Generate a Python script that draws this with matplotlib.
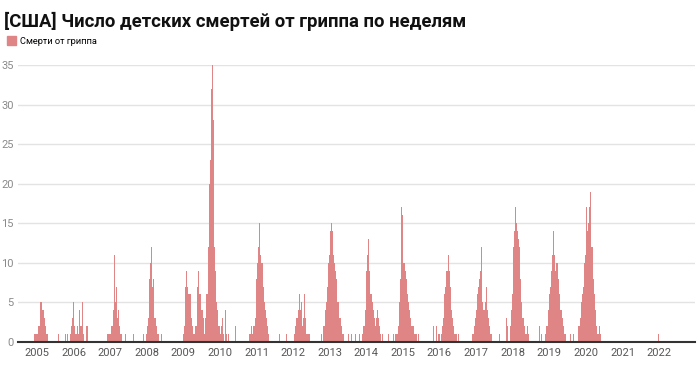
import pandas as pd
import matplotlib
matplotlib.use('Agg')
import matplotlib.pyplot as plt
import matplotlib.dates as mdates
from matplotlib.patches import Patch

# weekly pediatric flu deaths, each season starts on Oct 1 of the previous year
s2005 = [0, 0, 0, 0, 0, 0, 0, 0, 0, 1, 1, 1, 1, 1, 3, 2, 2, 3, 5, 5, 4, 4, 4, 3, 2, 2, 1, 2, 1,
         0, 0, 0, 0, 0, 0, 0, 0, 0, 0, 0, 0, 0, 0, 1]
s2006 = [0, 1, 0, 0, 1, 0, 0, 0, 1, 0, 2, 3, 2, 5, 2, 1, 1, 1, 2, 3, 1, 4, 2, 1, 2, 5, 1, 1, 0, 1,
         0, 2, 2, 1]
s2007 = [0, 0, 0, 0, 0, 0, 0, 0, 4, 1, 1, 0, 1, 1, 1, 2, 2, 4, 5, 11, 5, 4, 7, 3, 2, 4, 2, 1, 1, 1,
         0, 1, 0, 0, 0, 1, 0, 0, 0, 0, 0, 0, 0, 0, 0, 0, 1]
s2008 = [0, 0, 0, 1, 0, 0, 0, 0, 1, 0, 0, 0, 1, 1, 2, 3, 6, 8, 10, 12, 9, 7, 8, 6, 3, 3, 3, 2, 1, 1,
         1, 0, 0, 0, 1, 0, 1]
s2009 = [0, 0, 0, 0, 0, 0, 0, 0, 0, 0, 0, 0, 0, 1, 2, 4, 7, 9, 10, 7, 6, 6, 5, 6, 3, 3, 2, 1, 1, 1,
         2, 2, 4, 7, 9, 8, 6, 6, 4, 6, 4, 3, 2, 1, 3, 4, 6, 6, 12, 16, 20, 23]
s2010 = [26, 32, 35, 28, 21, 12, 9, 8, 5, 4, 3, 2, 2, 1, 0, 2, 3, 1, 1, 0, 1, 4, 1, 0, 0, 1, 0, 0, 0, 0,
         1, 0, 0, 0, 0, 2]
s2011 = [0, 0, 0, 1, 1, 2, 1, 1, 2, 1, 2, 3, 6, 8, 10, 12, 13, 15, 11, 11, 10, 10, 9, 7, 5, 4, 3, 3, 2, 2,
         1, 0, 0, 0, 0, 0, 0, 0, 0, 0, 0, 0, 0, 0, 0, 1]
s2012 = [0, 0, 0, 1, 0, 0, 0, 0, 0, 0, 0, 0, 0, 0, 1, 1, 2, 2, 3, 3, 4, 2, 6, 4, 3, 5, 2, 2, 3, 6,
         3, 2, 1, 1, 0, 1, 1]
s2013 = [1, 1, 0, 1, 2, 2, 3, 4, 5, 7, 8, 10, 11, 13, 14, 15, 17, 14, 11, 10, 9, 9, 8, 7, 5, 5, 4, 3, 3, 2,
         1, 1, 1, 0, 0, 0, 0, 0, 0, 1, 0, 0, 0, 0, 1, 0, 0, 0, 0, 1]
s2014 = [0, 0, 0, 1, 0, 0, 0, 1, 1, 2, 2, 4, 6, 9, 11, 12, 13, 9, 7, 6, 6, 5, 3, 4, 3, 2, 2, 3, 2, 4,
         3, 2, 1, 1, 0, 1, 1, 0, 0, 0, 0, 0, 0, 0, 1, 0, 0, 0, 0, 0, 0, 1]
s2015 = [1, 0, 1, 0, 1, 1, 2, 3, 5, 8, 12, 17, 16, 12, 10, 10, 9, 9, 8, 6, 6, 5, 4, 4, 3, 2, 2, 2, 2, 1,
         2, 1, 1, 1, 0, 1, 0, 0, 0, 0, 0, 0, 0, 0, 1]
s2016 = [0, 0, 0, 0, 2, 0, 0, 0, 2, 1, 0, 1, 0, 1, 0, 2, 1, 2, 3, 4, 6, 7, 8, 9, 9, 10, 11, 9, 7, 5,
         4, 3, 2, 2, 1, 1, 1, 1, 0, 1, 1]
s2017 = [0, 0, 0, 0, 0, 0, 0, 0, 1, 1, 2, 2, 3, 4, 5, 6, 7, 8, 8, 9, 12, 9, 5, 4, 3, 4, 5, 7, 9, 4,
         3, 2, 2, 1, 1, 1, 0, 0, 0, 0, 0, 0, 0, 0, 0, 0, 1]
s2018 = [0, 0, 0, 2, 3, 2, 1, 0, 0, 1, 2, 4, 6, 9, 12, 14, 16, 17, 15, 15, 14, 13, 12, 9, 8, 5, 4, 3, 3, 2,
         2, 1, 1, 1, 2, 1, 1, 0, 0, 0, 0, 0, 0, 0, 0, 0, 0, 0, 0, 0, 0, 2]
s2019 = [0, 0, 1, 0, 0, 0, 0, 1, 1, 2, 2, 3, 4, 6, 7, 8, 9, 11, 12, 14, 11, 9, 9, 10, 10, 9, 8, 6, 4, 4,
         4, 3, 3, 2, 1, 0, 1, 0, 1, 0, 0, 1, 0, 1, 0, 0, 0, 1]
s2020 = [1, 0, 2, 1, 2, 3, 3, 5, 6, 7, 9, 10, 11, 15, 17, 14, 15, 16, 17, 19, 15, 12, 12, 9, 8, 6, 4, 3, 2, 1,
         2, 1, 2, 2, 1]
s2021 = [0, 0, 0, 0, 0, 0, 0, 0, 0, 1]
s2022 = [0, 0, 0, 0, 0, 0, 0, 0, 0, 0, 0, 0, 1]

seasons = [s2005, s2006, s2007, s2008, s2009, s2010, s2011, s2012, s2013,
           s2014, s2015, s2016, s2017, s2018, s2019, s2020, s2021, s2022]
season_years = list(range(2005, 2023))
year_ticks = list(range(2005, 2023))

bar_color = '#e08585'

fig = plt.figure(figsize=(7, 3.66), dpi=100)
ax = fig.add_axes([0.0257, 0.0656, 0.967, 0.757])

# one weekly bar per value, drawn as a filled step outline per season
for year, vals in zip(season_years, seasons):
    edges = pd.date_range(f'{year - 1}-10-01', periods=len(vals) + 1, freq='7D')
    ax.stairs(vals, mdates.date2num(edges), fill=True, color=bar_color,
              linewidth=0, baseline=0)

ax.set_ylim(0, 35)
ax.set_xlim(mdates.date2num(pd.Timestamp('2004-06-25')),
            mdates.date2num(pd.Timestamp('2022-12-25')))
ax.set_yticks(range(0, 36, 5))
ax.set_xticks(mdates.date2num([pd.Timestamp(f'{y}-01-01') for y in year_ticks]))
ax.set_xticklabels([str(y) for y in year_ticks])

ax.grid(axis='y', color='#e3e3e3', linewidth=1)
ax.set_axisbelow(True)
for side in ['top', 'right', 'left']:
    ax.spines[side].set_visible(False)
ax.spines['bottom'].set_color('#333333')
ax.spines['bottom'].set_linewidth(1.5)
ax.tick_params(axis='both', length=0, labelsize=8)
ax.tick_params(axis='y', colors='#8a8a8a', pad=3)
ax.tick_params(axis='x', colors='#555555', pad=4)
for lbl in ax.get_xticklabels() + ax.get_yticklabels():
    lbl.set_family('Roboto')

fig.text(0.006, 0.925, '[США] Число детских смертей от гриппа по неделям',
         fontsize=13.3, fontweight='bold', family='Roboto', color='#111111')

fig.legend(handles=[Patch(color=bar_color, label='Смерти от гриппа')],
           loc='upper left', bbox_to_anchor=(-0.002, 0.925), frameon=False,
           handlelength=0.95, handleheight=1.2, handletextpad=0.4,
           prop={'family': 'Roboto', 'size': 6.7})

fig.savefig('out.png', dpi=100)
